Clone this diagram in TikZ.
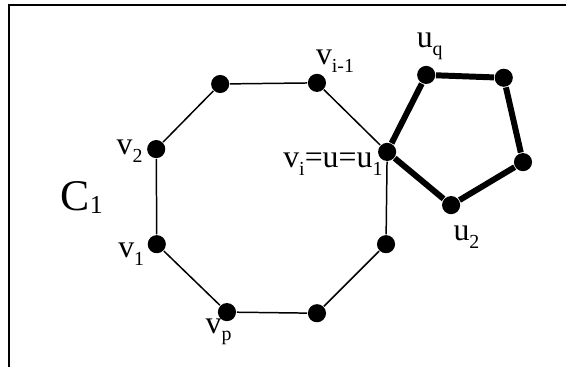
\documentclass[tikz,border=0pt]{standalone}
\usepackage{fontspec}
\setmainfont{Liberation Serif}
\newcommand\lbl[2]{#1\raisebox{-4pt}{\fontsize{10}{12}\selectfont #2}}

\begin{document}
\begin{tikzpicture}[line width=.75pt,
  dot/.style={circle,fill,inner sep=0pt,minimum size=3.2mm},
  lab/.style={inner sep=0pt,font=\fontsize{16}{19}\selectfont}]
  \useasboundingbox (0,0) rectangle (10,6.484);
  % frame
  \draw[line width=1pt] (0.16,0) |- (10,6.40);
  % cycle C1
  \node[dot] (a) at (3.89,5.00) {};
  \node[dot] (vim1) at (5.60,5.02) {};
  \node[dot] (vi) at (6.84,3.80) {};
  \node[dot] (b) at (6.82,2.17) {};
  \node[dot] (c) at (5.60,0.95) {};
  \node[dot] (vp) at (4.01,0.97) {};
  \node[dot] (v1) at (2.77,2.17) {};
  \node[dot] (v2) at (2.76,3.85) {};
  \draw (a) -- (vim1) -- (vi) -- (b) -- (c) -- (vp) -- (v1) -- (v2) -- (a);
  % the other cycle
  \node[dot] (uq) at (7.53,5.16) {};
  \node[dot] (p2) at (8.90,5.11) {};
  \node[dot] (p3) at (9.24,3.62) {};
  \node[dot] (u2) at (7.97,2.86) {};
  \draw[line width=3pt,line join=round] (vi) -- (uq) -- (p2) -- (p3) -- (u2) -- (vi);
  % labels
  \node[lab,anchor=base west] (lvim1) at (5.57,5.34) {\lbl{v}{i-1}};
  \node[lab,anchor=base west] (luq) at (7.35,5.64) {\lbl{u}{q}};
  \node[lab,anchor=base east] (lvi) at (6.77,3.53) {\lbl{v}{i}=u=\lbl{u}{1}};
  \node[lab,anchor=base east] (lv2) at (2.53,3.75) {\lbl{v}{2}};
  \node[lab,anchor=base east] (lv1) at (2.56,1.94) {\lbl{v}{1}};
  \node[lab,anchor=base west] (lvp) at (3.62,0.60) {\lbl{v}{p}};
  \node[lab,anchor=base west] (lu2) at (8.00,2.24) {\lbl{u}{2}};
  \node[inner sep=0pt,anchor=base west,font=\fontsize{22}{26}\selectfont] (lc1) at (1.06,2.77)
    {C\raisebox{-1.5pt}{\fontsize{13}{15}\selectfont 1}};
\end{tikzpicture}
\end{document}
